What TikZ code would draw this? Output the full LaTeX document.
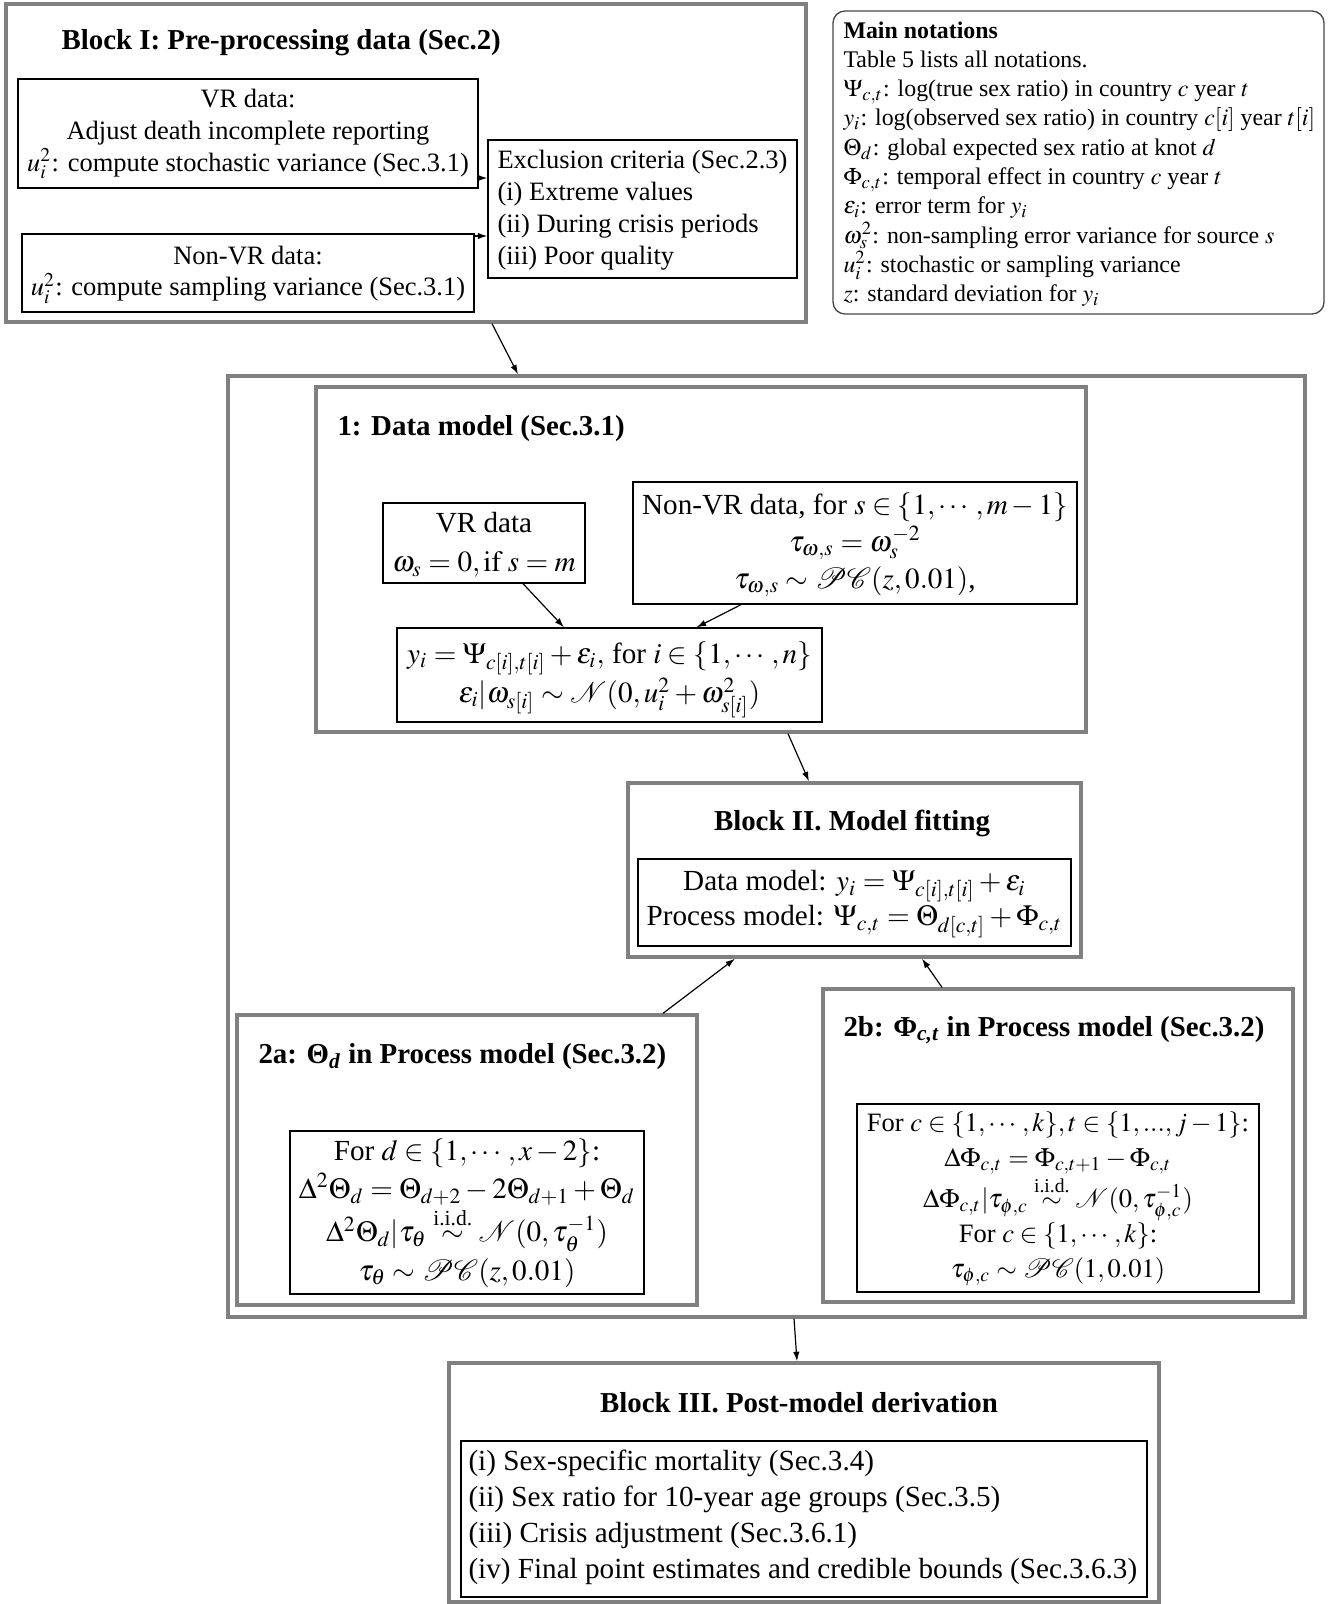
\documentclass[tikz,border=0pt]{standalone}
\usepackage{amsmath}
\usepackage{mathptmx}
\usepackage{fontspec}
\setmainfont{Liberation Serif}
\usetikzlibrary{arrows.meta,calc}
\newcommand\pxu{0.3774pt}
\newcommand\boxnode[6]{\node[#1, minimum width={(#4-#2)*\pxu}, minimum height={(#5-#3)*\pxu}] (#6) at ({(#2+#4)/2},{(#3+#5)/2}) {};}
\definecolor{boxgray}{RGB}{128,128,128}
\definecolor{notegray}{RGB}{70,70,70}
\tikzset{
  graybox/.style={draw=boxgray, line width=1.25pt, inner sep=0pt, rectangle},
  thinbox/.style={draw=black, line width=0.5pt, inner sep=0pt, rectangle},
  notebox/.style={draw=notegray, line width=0.5pt, inner sep=0pt, rectangle, rounded corners=4.5pt},
  txt/.style={inner sep=0pt, align=center, font=\fontsize{10}{12}\selectfont},
  bigtxt/.style={inner sep=0pt, align=center, font=\fontsize{11}{13.5}\selectfont},
  titletxt/.style={inner sep=0pt, anchor=west, font=\fontsize{10.9}{13}\selectfont\bfseries},
  arr/.style={draw=black, line width=0.45pt, -{Latex[length=3.6pt,width=2.4pt]}}
}
\begin{document}
\begin{tikzpicture}[x=0.3774pt,y=-0.3774pt]
\useasboundingbox (0,0) rectangle (1336,1604);
% Block I
\boxnode{graybox}{6}{4}{806}{322}{b1}
\node[titletxt] (b1t) at (61,43) {Block I: Pre-processing data (Sec.2)};
\boxnode{thinbox}{18}{79}{478}{188}{vr1}
\node[txt] (vr1t) at (248,134) {VR data:\\Adjust death incomplete reporting\\$u_i^2$: compute stochastic variance (Sec.3.1)};
\boxnode{thinbox}{22}{234}{474}{312}{nv1}
\node[txt] (nv1t) at (248,274.5) {Non-VR data:\\$u_i^2$: compute sampling variance (Sec.3.1)};
\boxnode{thinbox}{488}{140}{797}{278}{excl}
\node[txt, align=left, anchor=west] (exclt) at (497,210) {Exclusion criteria (Sec.2.3)\\(i) Extreme values\\(ii) During crisis periods\\(iii) Poor quality};
\draw[arr] ([yshift=-44.5*\pxu]vr1.east) -- ([yshift=31*\pxu]excl.west);
\draw[arr] ([yshift=37*\pxu]nv1.east) -- ([yshift=-27*\pxu]excl.west);
% Main notations
\boxnode{notebox}{833}{11}{1324}{314}{notes}
\node[txt, align=left, anchor=west, font=\fontsize{9}{11.05}\selectfont] (notest) at (843,164) {\textbf{Main notations}\\
Table 5 lists all notations.\\
$\Psi_{c,t}$: log(true sex ratio) in country $c$ year $t$\\
$y_i$: log(observed sex ratio) in country $c[i]$ year $t[i]$\\
$\Theta_d$: global expected sex ratio at knot $d$\\
$\Phi_{c,t}$: temporal effect in country $c$ year $t$\\
$\varepsilon_i$: error term for $y_i$\\
$\omega_s^2$: non-sampling error variance for source $s$\\
$u_i^2$: stochastic or sampling variance\\
$z$: standard deviation for $y_i$};
% container
\boxnode{graybox}{228}{376}{1305}{1317}{cont}
\draw[arr] ([xshift=86*\pxu]b1.south) -- ([xshift=-248.5*\pxu]cont.north);
% Data model
\boxnode{graybox}{316}{387}{1086}{732}{dm}
\node[titletxt] (dmt) at (337,429) {1: Data model (Sec.3.1)};
\boxnode{thinbox}{383}{503}{585}{583}{vr2}
\node[bigtxt, font=\fontsize{11}{14.7}\selectfont] (vr2t) at (484,545) {VR data\\$\omega_s=0,\mathrm{if}\;s=m$};
\boxnode{thinbox}{633}{482}{1077}{604}{nv2}
\node[bigtxt, font=\fontsize{11}{13.9}\selectfont] (nv2t) at (855,545) {Non-VR data, for $s\in\{1,\cdots,m-1\}$\\$\tau_{\omega,s}=\omega_s^{-2}$\\$\tau_{\omega,s}\sim\mathcal{PC}(z,0.01)$,};
\boxnode{thinbox}{397}{628}{822}{722}{yb}
\node[bigtxt, font=\fontsize{11}{13.3}\selectfont] (ybt) at (609.5,680) {$y_i=\Psi_{c[i],t[i]}+\varepsilon_i,$ for $i\in\{1,\cdots,n\}$\\$\varepsilon_i|\omega_{s[i]}\sim\mathcal{N}(0,u_i^2+\omega_{s[i]}^2)$};
\draw[arr] ([xshift=39*\pxu]vr2.south) -- ([xshift=-45.5*\pxu]yb.north);
\draw[arr] ([xshift=-114*\pxu]nv2.south) -- ([xshift=87*\pxu]yb.north);
% Block II
\boxnode{graybox}{628}{783}{1081}{957}{b2}
\node[titletxt, anchor=center] (b2t) at (852,824) {Block II. Model fitting};
\boxnode{thinbox}{638}{859}{1071}{946}{b2in}
\node[bigtxt, font=\fontsize{11}{13.3}\selectfont] (b2it) at (854.5,904) {Data model: $y_i=\Psi_{c[i],t[i]}+\varepsilon_i$\\Process model: $\Psi_{c,t}=\Theta_{d[c,t]}+\Phi_{c,t}$};
\draw[arr] ([xshift=87*\pxu]dm.south) -- ([xshift=-45.5*\pxu]b2.north);
% 2a
\boxnode{graybox}{237}{1015}{697}{1305}{p2a}
\node[titletxt] (p2at) at (258,1057) {2a: Θ$_{\textit{d}}$ in Process model (Sec.3.2)};
\boxnode{thinbox}{290}{1131}{644}{1294}{p2ain}
\node[bigtxt, font=\fontsize{11}{14.4}\selectfont] (p2ait) at (467,1213) {For $d\in\{1,\cdots,x-2\}$:\\$\Delta^2\Theta_d=\Theta_{d+2}-2\Theta_{d+1}+\Theta_d$\\$\Delta^2\Theta_d|\tau_\theta\overset{\text{i.i.d.}}{\sim}\mathcal{N}(0,\tau_\theta^{-1})$\\$\tau_\theta\sim\mathcal{PC}(z,0.01)$};
\draw[arr] ([xshift=196*\pxu]p2a.north) -- ([xshift=-119.5*\pxu]b2.south);
% 2b
\boxnode{graybox}{823}{989}{1293}{1302}{p2b}
\node[titletxt] (p2bt) at (843,1030) {2b: Φ$_{\textit{c,t}}$ in Process model (Sec.3.2)};
\boxnode{thinbox}{857}{1104}{1259}{1292}{p2bin}
\node[txt, font=\fontsize{10}{13.2}\selectfont] (p2bit) at (1058,1199) {For $c\in\{1,\cdots,k\},t\in\{1,...,j-1\}$:\\$\Delta\Phi_{c,t}=\Phi_{c,t+1}-\Phi_{c,t}$\\$\Delta\Phi_{c,t}|\tau_{\phi,c}\overset{\text{i.i.d.}}{\sim}\mathcal{N}(0,\tau_{\phi,c}^{-1})$\\For $c\in\{1,\cdots,k\}$:\\$\tau_{\phi,c}\sim\mathcal{PC}(1,0.01)$};
\draw[arr] ([xshift=-116*\pxu]p2b.north) -- ([xshift=67.5*\pxu]b2.south);
% Block III
\boxnode{graybox}{449}{1363}{1159}{1602}{b3}
\node[titletxt, anchor=center] (b3t) at (799,1403) {Block III. Post-model derivation};
\boxnode{thinbox}{461}{1441}{1147}{1597}{b3in}
\node[bigtxt, align=left, anchor=west, font=\fontsize{11}{13.6}\selectfont] (b3it) at (468,1517) {(i) Sex-specific mortality (Sec.3.4)\\(ii) Sex ratio for 10-year age groups (Sec.3.5)\\(iii) Crisis adjustment (Sec.3.6.1)\\(iv) Final point estimates and credible bounds (Sec.3.6.3)};
\draw[arr] ([xshift=27.5*\pxu]cont.south) -- ([xshift=-7*\pxu]b3.north);
\end{tikzpicture}
\end{document}
